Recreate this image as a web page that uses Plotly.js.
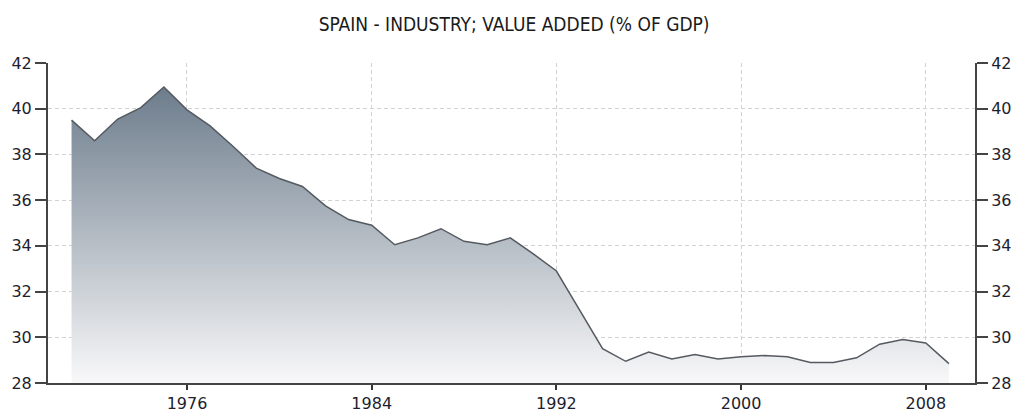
<!DOCTYPE html>
<html>
<head>
<meta charset="utf-8">
<script src="https://cdn.plot.ly/plotly-3.0.1.min.js"></script>
<style>html,body{margin:0;padding:0;background:#fff;}#chart{width:1012px;height:412px;}</style>
</head>
<body>
<div id="chart"></div>
<script>
const years = [1971,1972,1973,1974,1975,1976,1977,1978,1979,1980,1981,1982,1983,1984,1985,1986,1987,1988,1989,1990,1991,1992,1993,1994,1995,1996,1997,1998,1999,2000,2001,2002,2003,2004,2005,2006,2007,2008,2009];
const industryValueAdded = [39.5,38.6,39.55,40.05,40.95,39.95,39.25,38.35,37.4,36.95,36.6,35.75,35.15,34.9,34.05,34.35,34.75,34.2,34.05,34.35,33.65,32.9,31.2,29.5,28.95,29.35,29.05,29.25,29.05,29.15,29.2,29.15,28.9,28.9,29.1,29.7,29.9,29.75,28.85];
const xTickValues = [1976,1984,1992,2000,2008];
const xTickLabels = ['1976','1984','1992','2000','2008'];
const yTickValues = [28,30,32,34,36,38,40,42];
const chartTitle = 'SPAIN - INDUSTRY; VALUE ADDED (% OF GDP)';

const tickFont = {family: 'DejaVu Sans, Verdana, sans-serif', size: 16, color: '#1e1e2e'};
const yCommon = {
  range: [28, 42], tickvals: yTickValues, ticks: 'outside', ticklen: 11, tickwidth: 2,
  tickcolor: '#444', showline: true, linecolor: '#444', linewidth: 2,
  tickfont: tickFont, zeroline: false, fixedrange: true
};

const trace = {
  x: years, y: industryValueAdded, type: 'scatter', mode: 'lines',
  line: {color: '#555a60', width: 1.5},
  fill: 'tozeroy',
  fillgradient: {type: 'vertical', start: 28, stop: 41.2,
    colorscale: [[0, '#f8f8f9'], [1, '#6a7a8a']]},
  hoverinfo: 'x+y', showlegend: false
};
const trace2 = {x: [years[0]], y: [industryValueAdded[0]], yaxis: 'y2', type: 'scatter', mode: 'none', showlegend: false, hoverinfo: 'skip'};

const layout = {
  width: 1012, height: 412,
  margin: {l: 48, r: 37, t: 63, b: 29},
  paper_bgcolor: '#fff', plot_bgcolor: '#fff',
  title: {text: chartTitle, x: 0.508, xanchor: 'center', y: 0.94, yanchor: 'middle',
    font: {family: 'DejaVu Sans Condensed, DejaVu Sans, sans-serif', size: 19, color: '#1a1a1a'}},
  xaxis: {range: [1969.98, 2010.13], tickvals: xTickValues, ticktext: xTickLabels,
    ticks: 'outside', ticklen: 5, tickwidth: 2, tickcolor: '#333',
    showline: true, linecolor: '#444', linewidth: 2,
    showgrid: true, gridcolor: '#d2d2d2', griddash: '4px,3px', gridwidth: 1,
    tickfont: tickFont, zeroline: false, fixedrange: true},
  yaxis: Object.assign({}, yCommon, {side: 'left', showgrid: true, gridcolor: '#d2d2d2', griddash: '4px,3px', gridwidth: 1}),
  yaxis2: Object.assign({}, yCommon, {side: 'right', overlaying: 'y', showgrid: false}),
  showlegend: false
};

Plotly.newPlot('chart', [trace, trace2], layout, {displayModeBar: false, staticPlot: true});
</script>
</body>
</html>
